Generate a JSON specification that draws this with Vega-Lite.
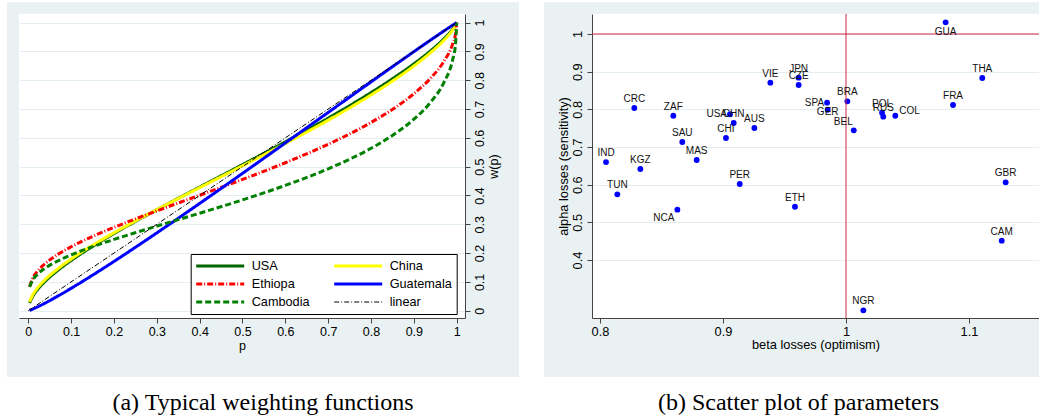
{
"$schema": "https://vega.github.io/schema/vega-lite/v6.json",
"background": "#e9f1f3",
"padding": 0,
"columns": 7,
"align": "each",
"bounds": "flush",
"spacing": 0,
"config": {
  "view": {"stroke": null},
  "font": "Liberation Sans",
  "axis": {"labelFont": "Liberation Sans", "titleFont": "Liberation Sans", "labelColor": "#000", "titleColor": "#000", "titleFontWeight": "normal", "domainColor": "#444", "tickColor": "#444", "gridColor": "#e4edf0", "labelFlush": false, "labelOverlap": false, "tickSize": 5}
},
"concat": [
  {"width": 7, "height": 2, "view": {"fill": "white"}, "data": {"values": []}, "mark": "point"},
  {"width": 12, "height": 2, "view": {"fill": "white"}, "data": {"values": []}, "mark": "point"},
  {"width": 446, "height": 2, "view": {"fill": "white"}, "data": {"values": []}, "mark": "point"},
  {"width": 54, "height": 2, "view": {"fill": "white"}, "data": {"values": []}, "mark": "point"},
  {"width": 25, "height": 2, "view": {"fill": "white"}, "data": {"values": []}, "mark": "point"},
  {"width": 48, "height": 2, "view": {"fill": "white"}, "data": {"values": []}, "mark": "point"},
  {"width": 447, "height": 2, "view": {"fill": "white"}, "data": {"values": []}, "mark": "point"},

  {"width": 7, "height": 12, "view": {"fill": "white"}, "data": {"values": []}, "mark": "point"},
  {"width": 12, "height": 12, "data": {"values": []}, "mark": "point"},
  {"width": 446, "height": 12, "data": {"values": []}, "mark": "point"},
  {"width": 54, "height": 12, "data": {"values": []}, "mark": "point"},
  {"width": 25, "height": 12, "view": {"fill": "white"}, "data": {"values": []}, "mark": "point"},
  {"width": 48, "height": 12, "data": {"values": []}, "mark": "point"},
  {"width": 447, "height": 12, "data": {"values": []}, "mark": "point"},

  {"width": 7, "height": 304, "view": {"fill": "white"}, "data": {"values": []}, "mark": "point"},
  {"width": 12, "height": 304, "data": {"values": []}, "mark": "point"},
  {
    "width": 446, "height": 304, "view": {"fill": "white"},
    "data": {"values": [
      {"series":"USA","p":0.003,"w":0.0268},{"series":"USA","p":0.01,"w":0.0491},{"series":"USA","p":0.02,"w":0.0706},{"series":"USA","p":0.04,"w":0.1029},{"series":"USA","p":0.07,"w":0.1414},{"series":"USA","p":0.1,"w":0.1743},{"series":"USA","p":0.15,"w":0.2232},{"series":"USA","p":0.2,"w":0.2678},{"series":"USA","p":0.25,"w":0.3099},{"series":"USA","p":0.3,"w":0.3505},{"series":"USA","p":0.35,"w":0.3901},{"series":"USA","p":0.4,"w":0.4292},{"series":"USA","p":0.5,"w":0.5071},{"series":"USA","p":0.6,"w":0.5862},{"series":"USA","p":0.7,"w":0.6686},{"series":"USA","p":0.8,"w":0.7571},{"series":"USA","p":0.85,"w":0.8051},{"series":"USA","p":0.9,"w":0.8571},{"series":"USA","p":0.94,"w":0.9036},{"series":"USA","p":0.97,"w":0.9436},{"series":"USA","p":0.99,"w":0.976},{"series":"USA","p":0.997,"w":0.9907},{"series":"USA","p":1,"w":1},
      {"series":"China","p":0.003,"w":0.0306},{"series":"China","p":0.01,"w":0.054},{"series":"China","p":0.02,"w":0.076},{"series":"China","p":0.04,"w":0.1086},{"series":"China","p":0.07,"w":0.1467},{"series":"China","p":0.1,"w":0.1792},{"series":"China","p":0.15,"w":0.2271},{"series":"China","p":0.2,"w":0.2705},{"series":"China","p":0.25,"w":0.3114},{"series":"China","p":0.3,"w":0.3508},{"series":"China","p":0.35,"w":0.3893},{"series":"China","p":0.4,"w":0.4273},{"series":"China","p":0.5,"w":0.5031},{"series":"China","p":0.6,"w":0.5803},{"series":"China","p":0.7,"w":0.6613},{"series":"China","p":0.8,"w":0.749},{"series":"China","p":0.85,"w":0.7971},{"series":"China","p":0.9,"w":0.8497},{"series":"China","p":0.94,"w":0.8973},{"series":"China","p":0.97,"w":0.9388},{"series":"China","p":0.99,"w":0.9733},{"series":"China","p":0.997,"w":0.9893},{"series":"China","p":1,"w":1},
      {"series":"Ethiopa","p":0.003,"w":0.0833},{"series":"Ethiopa","p":0.01,"w":0.1118},{"series":"Ethiopa","p":0.02,"w":0.1345},{"series":"Ethiopa","p":0.04,"w":0.1644},{"series":"Ethiopa","p":0.07,"w":0.1964},{"series":"Ethiopa","p":0.1,"w":0.2219},{"series":"Ethiopa","p":0.15,"w":0.2578},{"series":"Ethiopa","p":0.2,"w":0.2893},{"series":"Ethiopa","p":0.25,"w":0.3186},{"series":"Ethiopa","p":0.3,"w":0.3465},{"series":"Ethiopa","p":0.35,"w":0.3738},{"series":"Ethiopa","p":0.4,"w":0.4008},{"series":"Ethiopa","p":0.5,"w":0.4557},{"series":"Ethiopa","p":0.6,"w":0.5136},{"series":"Ethiopa","p":0.7,"w":0.5778},{"series":"Ethiopa","p":0.8,"w":0.6534},{"series":"Ethiopa","p":0.85,"w":0.6989},{"series":"Ethiopa","p":0.9,"w":0.7532},{"series":"Ethiopa","p":0.94,"w":0.8086},{"series":"Ethiopa","p":0.97,"w":0.8653},{"series":"Ethiopa","p":0.99,"w":0.9237},{"series":"Ethiopa","p":0.997,"w":0.9596},{"series":"Ethiopa","p":1,"w":1},
      {"series":"Guatemala","p":0.003,"w":0.0013},{"series":"Guatemala","p":0.01,"w":0.0054},{"series":"Guatemala","p":0.02,"w":0.0121},{"series":"Guatemala","p":0.04,"w":0.0271},{"series":"Guatemala","p":0.07,"w":0.0517},{"series":"Guatemala","p":0.1,"w":0.0777},{"series":"Guatemala","p":0.15,"w":0.1234},{"series":"Guatemala","p":0.2,"w":0.171},{"series":"Guatemala","p":0.25,"w":0.2201},{"series":"Guatemala","p":0.3,"w":0.2701},{"series":"Guatemala","p":0.35,"w":0.3209},{"series":"Guatemala","p":0.4,"w":0.3724},{"series":"Guatemala","p":0.5,"w":0.4767},{"series":"Guatemala","p":0.6,"w":0.5823},{"series":"Guatemala","p":0.7,"w":0.6883},{"series":"Guatemala","p":0.8,"w":0.7943},{"series":"Guatemala","p":0.85,"w":0.847},{"series":"Guatemala","p":0.9,"w":0.8992},{"series":"Guatemala","p":0.94,"w":0.9405},{"series":"Guatemala","p":0.97,"w":0.9709},{"series":"Guatemala","p":0.99,"w":0.9906},{"series":"Guatemala","p":0.997,"w":0.9973},{"series":"Guatemala","p":1,"w":1},
      {"series":"Cambodia","p":0.003,"w":0.0828},{"series":"Cambodia","p":0.01,"w":0.106},{"series":"Cambodia","p":0.02,"w":0.1243},{"series":"Cambodia","p":0.04,"w":0.1482},{"series":"Cambodia","p":0.07,"w":0.1735},{"series":"Cambodia","p":0.1,"w":0.1937},{"series":"Cambodia","p":0.15,"w":0.2222},{"series":"Cambodia","p":0.2,"w":0.2474},{"series":"Cambodia","p":0.25,"w":0.2709},{"series":"Cambodia","p":0.3,"w":0.2937},{"series":"Cambodia","p":0.35,"w":0.316},{"series":"Cambodia","p":0.4,"w":0.3384},{"series":"Cambodia","p":0.5,"w":0.3847},{"series":"Cambodia","p":0.6,"w":0.435},{"series":"Cambodia","p":0.7,"w":0.4926},{"series":"Cambodia","p":0.8,"w":0.5638},{"series":"Cambodia","p":0.85,"w":0.6085},{"series":"Cambodia","p":0.9,"w":0.6647},{"series":"Cambodia","p":0.94,"w":0.7252},{"series":"Cambodia","p":0.97,"w":0.7918},{"series":"Cambodia","p":0.99,"w":0.868},{"series":"Cambodia","p":0.997,"w":0.9212},{"series":"Cambodia","p":1,"w":1},
      {"series":"linear","p":0,"w":0},{"series":"linear","p":1,"w":1}
    ]},
    "mark": {"type": "line", "interpolate": "monotone"},
    "encoding": {
      "x": {"field": "p", "type": "quantitative", "scale": {"domain": [-0.0217, 1.0194], "nice": false, "zero": false},
        "axis": {"values": [0,0.1,0.2,0.3,0.4,0.5,0.6,0.7,0.8,0.9,1], "format": "~g", "title": "p", "grid": false, "labelFontSize": 12.5, "titleFontSize": 12.5, "labelPadding": 2, "titlePadding": 2}},
      "y": {"field": "w", "type": "quantitative", "scale": {"domain": [-0.0253, 1.03], "nice": false, "zero": false},
        "axis": {"orient": "right", "values": [0,0.1,0.2,0.3,0.4,0.5,0.6,0.7,0.8,0.9,1], "format": "~g", "title": "w(p)", "grid": true, "labelAngle": 270, "labelAlign": "center", "labelBaseline": "top", "labelPadding": 3, "titleAngle": 270, "titleBaseline": "top", "titlePadding": 2, "labelFontSize": 12.5, "titleFontSize": 12.5}},
      "color": {"field": "series", "type": "nominal",
        "scale": {"domain": ["USA","Ethiopa","Cambodia","China","Guatemala","linear"], "range": ["#006400","#ff0000","#008000","#ffff00","#0000ff","#000000"]},
        "legend": {"orient": "none", "legendX": 190.7, "legendY": 254, "columns": 2, "title": null, "strokeColor": "#000", "fillColor": "#fff", "padding": 4, "clipHeight": 16, "rowPadding": 2, "columnPadding": 23, "symbolType": "stroke", "symbolSize": 2304, "symbolStrokeWidth": 3, "labelOffset": 6, "labelFont": "Liberation Sans", "labelFontSize": 12.7, "labelColor": "#000", "labelLimit": 200}},
      "strokeDash": {"field": "series", "type": "nominal",
        "scale": {"domain": ["USA","Ethiopa","Cambodia","China","Guatemala","linear"], "range": [[1,0],[6,2,1,2],[6,3],[1,0],[1,0],[5,2,1,2]]}},
      "strokeWidth": {"field": "series", "type": "nominal",
        "scale": {"type": "ordinal", "domain": ["USA","Ethiopa","Cambodia","China","Guatemala","linear"], "range": [3,3,3,3,3,1]}}
    }
  },
  {"width": 54, "height": 304, "data": {"values": []}, "mark": "point"},
  {"width": 25, "height": 304, "view": {"fill": "white"}, "data": {"values": []}, "mark": "point"},
  {"width": 48, "height": 304, "data": {"values": []}, "mark": "point"},
  {
    "width": 447, "height": 304, "view": {"fill": "white"},
    "data": {"values": [
      {"country":"CRC","beta":0.8279,"alpha":0.8036},
      {"country":"ZAF","beta":0.8596,"alpha":0.783},
      {"country":"USA","beta":0.9057,"alpha":0.787},
      {"country":"CHN","beta":0.9087,"alpha":0.7637},
      {"country":"SAU","beta":0.8669,"alpha":0.7133},
      {"country":"CHI","beta":0.9024,"alpha":0.724},
      {"country":"MAS","beta":0.8786,"alpha":0.6655},
      {"country":"IND","beta":0.8049,"alpha":0.66},
      {"country":"KGZ","beta":0.8328,"alpha":0.6416},
      {"country":"TUN","beta":0.8141,"alpha":0.5744},
      {"country":"NCA","beta":0.8629,"alpha":0.5336},
      {"country":"PER","beta":0.9136,"alpha":0.6018},
      {"country":"ETH","beta":0.9585,"alpha":0.5415},
      {"country":"VIE","beta":0.9385,"alpha":0.8708},
      {"country":"JPN","beta":0.9615,"alpha":0.884},
      {"country":"CZE","beta":0.9615,"alpha":0.8646},
      {"country":"AUS","beta":0.9255,"alpha":0.7505},
      {"country":"SPA","beta":0.9846,"alpha":0.8177},
      {"country":"GER","beta":0.9851,"alpha":0.799},
      {"country":"BRA","beta":1.0011,"alpha":0.8213},
      {"country":"BEL","beta":1.0063,"alpha":0.7443},
      {"country":"POL","beta":1.0293,"alpha":0.791},
      {"country":"RUS","beta":1.0303,"alpha":0.7805},
      {"country":"GUA","beta":1.081,"alpha":1.031},
      {"country":"THA","beta":1.1108,"alpha":0.8832},
      {"country":"FRA","beta":1.087,"alpha":0.8115},
      {"country":"COL","beta":1.0401,"alpha":0.783},
      {"country":"GBR","beta":1.1298,"alpha":0.6063},
      {"country":"CAM","beta":1.1266,"alpha":0.4513},
      {"country":"NGR","beta":1.0141,"alpha":0.2665}
    ]},
    "layer": [
      {
        "mark": {"type": "circle", "size": 34, "color": "#0000ff", "opacity": 1},
        "encoding": {
          "x": {"field": "beta", "type": "quantitative", "scale": {"domain": [0.7935, 1.1569], "nice": false, "zero": false},
            "axis": {"values": [0.8,0.9,1,1.1], "format": "~g", "title": "beta losses (optimism)", "grid": false, "labelFontSize": 12.8, "titleFontSize": 12.8, "labelPadding": 2, "titlePadding": 1}},
          "y": {"field": "alpha", "type": "quantitative", "scale": {"domain": [0.2461, 1.0531], "nice": false, "zero": false},
            "axis": {"values": [0.4,0.5,0.6,0.7,0.8,0.9,1], "format": "~g", "title": "alpha losses (sensitivity)", "grid": true, "labelAngle": 270, "labelAlign": "center", "labelBaseline": "bottom", "labelPadding": 3, "titleAngle": 270, "titleBaseline": "bottom", "titlePadding": 1, "labelFontSize": 12.8, "titleFontSize": 12.8}}
        }
      },
      {"data": {"values": [{}]}, "mark": {"type": "rule", "color": "#cc2a4a", "strokeWidth": 1}, "encoding": {"x": {"datum": 1, "type": "quantitative"}}},
      {"data": {"values": [{}]}, "mark": {"type": "rule", "color": "#cc2a4a", "strokeWidth": 1}, "encoding": {"y": {"datum": 1, "type": "quantitative"}}},
      {
        "transform": [{"filter": "indexof(['GUA','NCA','USA','SPA','GER','BEL','COL'], datum.country) < 0"}],
        "mark": {"type": "text", "fontSize": 10, "font": "Liberation Sans", "color": "#111", "baseline": "middle", "align": "center", "dy": -9},
        "encoding": {"x": {"field": "beta", "type": "quantitative"}, "y": {"field": "alpha", "type": "quantitative"}, "text": {"field": "country"}}
      },
      {
        "transform": [{"filter": "datum.country === 'GUA'"}],
        "mark": {"type": "text", "fontSize": 10, "font": "Liberation Sans", "color": "#111", "baseline": "middle", "align": "center", "dy": 9.5},
        "encoding": {"x": {"field": "beta", "type": "quantitative"}, "y": {"field": "alpha", "type": "quantitative"}, "text": {"field": "country"}}
      },
      {
        "transform": [{"filter": "datum.country === 'NCA'"}],
        "mark": {"type": "text", "fontSize": 10, "font": "Liberation Sans", "color": "#111", "baseline": "middle", "align": "right", "dx": -3, "dy": 8.5},
        "encoding": {"x": {"field": "beta", "type": "quantitative"}, "y": {"field": "alpha", "type": "quantitative"}, "text": {"field": "country"}}
      },
      {
        "transform": [{"filter": "datum.country === 'USA' || datum.country === 'SPA'"}],
        "mark": {"type": "text", "fontSize": 10, "font": "Liberation Sans", "color": "#111", "baseline": "middle", "align": "right", "dx": -3, "dy": 0},
        "encoding": {"x": {"field": "beta", "type": "quantitative"}, "y": {"field": "alpha", "type": "quantitative"}, "text": {"field": "country"}}
      },
      {
        "transform": [{"filter": "datum.country === 'GER'"}],
        "mark": {"type": "text", "fontSize": 10, "font": "Liberation Sans", "color": "#111", "baseline": "middle", "align": "center", "dy": 2},
        "encoding": {"x": {"field": "beta", "type": "quantitative"}, "y": {"field": "alpha", "type": "quantitative"}, "text": {"field": "country"}}
      },
      {
        "transform": [{"filter": "datum.country === 'BEL'"}],
        "mark": {"type": "text", "fontSize": 10, "font": "Liberation Sans", "color": "#111", "baseline": "middle", "align": "right", "dx": -1, "dy": -8},
        "encoding": {"x": {"field": "beta", "type": "quantitative"}, "y": {"field": "alpha", "type": "quantitative"}, "text": {"field": "country"}}
      },
      {
        "transform": [{"filter": "datum.country === 'COL'"}],
        "mark": {"type": "text", "fontSize": 10, "font": "Liberation Sans", "color": "#111", "baseline": "middle", "align": "left", "dx": 4, "dy": -5},
        "encoding": {"x": {"field": "beta", "type": "quantitative"}, "y": {"field": "alpha", "type": "quantitative"}, "text": {"field": "country"}}
      }
    ]
  },

  {"width": 7, "height": 59, "view": {"fill": "white"}, "data": {"values": []}, "mark": "point"},
  {"width": 12, "height": 59, "data": {"values": []}, "mark": "point"},
  {"width": 446, "height": 59, "data": {"values": []}, "mark": "point"},
  {"width": 54, "height": 59, "data": {"values": []}, "mark": "point"},
  {"width": 25, "height": 59, "view": {"fill": "white"}, "data": {"values": []}, "mark": "point"},
  {"width": 48, "height": 59, "data": {"values": []}, "mark": "point"},
  {"width": 447, "height": 59, "data": {"values": []}, "mark": "point"},

  {"width": 7, "height": 40, "view": {"fill": "white"}, "data": {"values": []}, "mark": "point"},
  {"width": 12, "height": 40, "view": {"fill": "white"}, "data": {"values": []}, "mark": "point"},
  {"width": 446, "height": 40, "view": {"fill": "white"}, "data": {"values": [{"caption": "(a) Typical weighting functions"}]},
    "mark": {"type": "text", "font": "Liberation Serif", "fontSize": 24, "color": "#000", "align": "center", "baseline": "middle", "dx": 21, "dy": 6},
    "encoding": {"text": {"field": "caption"}}},
  {"width": 54, "height": 40, "view": {"fill": "white"}, "data": {"values": []}, "mark": "point"},
  {"width": 25, "height": 40, "view": {"fill": "white"}, "data": {"values": []}, "mark": "point"},
  {"width": 48, "height": 40, "view": {"fill": "white"}, "data": {"values": []}, "mark": "point"},
  {"width": 447, "height": 40, "view": {"fill": "white"}, "data": {"values": [{"caption": "(b) Scatter plot of parameters"}]},
    "mark": {"type": "text", "font": "Liberation Serif", "fontSize": 24, "color": "#000", "align": "center", "baseline": "middle", "dx": -17, "dy": 6},
    "encoding": {"text": {"field": "caption"}}}
]
}
